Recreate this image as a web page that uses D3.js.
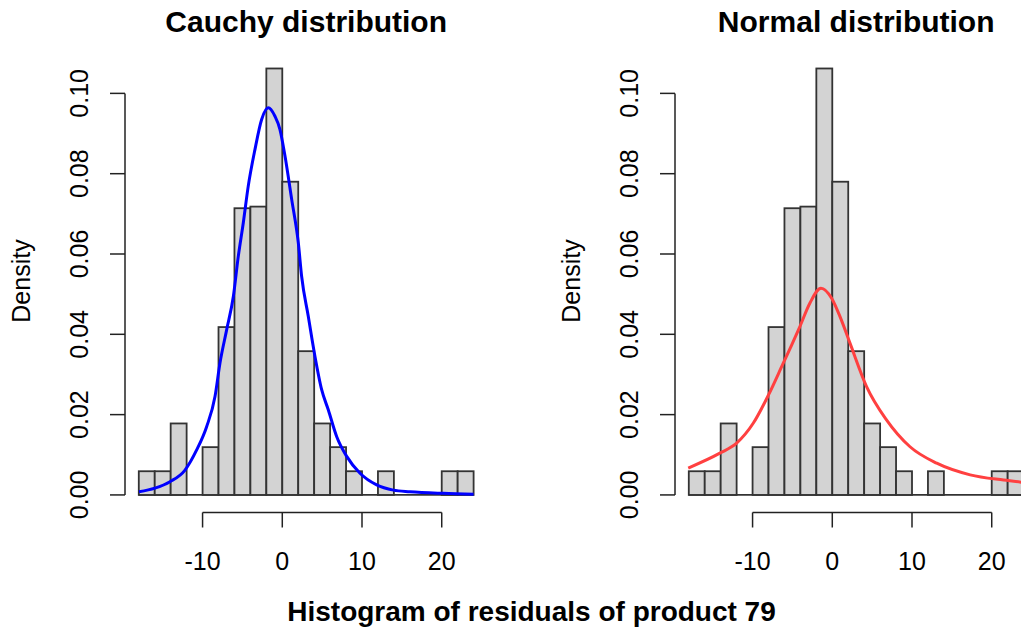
<!DOCTYPE html>
<html>
<head>
<meta charset="utf-8">
<script src="https://cdn.jsdelivr.net/npm/d3@7"></script>
<style>
  body { margin: 0; background: #fff; }
  text { font-family: "Liberation Sans", Arial, sans-serif; fill: #000; }
</style>
</head>
<body>
<svg id="chart" width="1021" height="630"></svg>
<script>
// histogram of the residuals, bins of width 2 (left edges) and their densities
var binStarts = [-18, -16, -14, -12, -10, -8, -6, -4, -2, 0, 2, 4, 6, 8, 10, 12, 14, 16, 18, 20, 22];
var binWidth = 2;
var densities = [0.0059, 0.0059, 0.0178, 0, 0.0119, 0.0418, 0.0714, 0.0718, 0.1062, 0.0780, 0.0358,
                 0.0178, 0.0119, 0.0059, 0, 0.0059, 0, 0, 0, 0.0059, 0.0059];

// fitted curve on the left panel (blue)
var leftCurveX = [-17.98, -15.97, -14.09, -12.2, -10.74, -9.49, -8.44, -7.82, -6.98, -6.14, -5.52, -4.89,
                  -4.27, -3.43, -2.59, -1.76, -0.92, -0.29, 0.34, 1.18, 2.01, 2.43, 3.26, 4.1, 4.94, 5.77,
                  6.83, 8.08, 9.75, 11.84, 13.94, 16.0, 20.2, 24.0];
var leftCurveY = [0.0008, 0.0017, 0.0033, 0.0062, 0.0112, 0.017, 0.0245, 0.0328, 0.0411, 0.0494, 0.0594, 0.0678,
                  0.0769, 0.086, 0.0935, 0.0964, 0.0943, 0.091, 0.0844, 0.0736, 0.0628, 0.0544, 0.0445, 0.0345,
                  0.0262, 0.0212, 0.0145, 0.0096, 0.0054, 0.0025, 0.0012, 0.0008, 0.0004, 0.0002];

// fitted curve on the right panel (red)
var rightCurveX = [-18.07, -14.1, -12.0, -9.9, -8.0, -6.15, -5.1, -4.05, -2.8, -1.42, -0.08, 0.97, 2.22,
                   4.3, 6.8, 9.75, 13.1, 17.3, 21.5, 24.0];
var rightCurveY = [0.0067, 0.0104, 0.0129, 0.0179, 0.0249, 0.0328, 0.0373, 0.042, 0.0478, 0.0515, 0.049, 0.0444,
                   0.0378, 0.027, 0.0187, 0.012, 0.0079, 0.005, 0.0037, 0.0031];

var xTicks = [-10, 0, 10, 20];
var yTicks = [0.00, 0.02, 0.04, 0.06, 0.08, 0.10];

var svg = d3.select("#chart");

var y = d3.scaleLinear().domain([-0.0043, 0.1113]).range([512.2, 48]);

function drawPanel(offset, title, cx, cy, color) {
    var x = d3.scaleLinear().domain([-19.68, 25.68]).range([125.4 + offset, 487 + offset]);
    var g = svg.append("g");

    // baseline under empty bins
    g.append("line")
        .attr("x1", x(binStarts[0])).attr("x2", x(binStarts[binStarts.length - 1] + binWidth))
        .attr("y1", y(0)).attr("y2", y(0))
        .attr("stroke", "#333").attr("stroke-width", 1.8);

    g.selectAll("rect.bar")
        .data(binStarts.map(function(b, i){ return {x0: b, d: densities[i]}; }).filter(function(b){ return b.d > 0; }))
      .enter().append("rect")
        .attr("class", "bar")
        .attr("x", function(d){ return x(d.x0); })
        .attr("width", function(d){ return x(d.x0 + binWidth) - x(d.x0); })
        .attr("y", function(d){ return y(d.d); })
        .attr("height", function(d){ return y(0) - y(d.d); })
        .attr("fill", "#d3d3d3")
        .attr("stroke", "#333")
        .attr("stroke-width", 1.8);

    var pts = cx.map(function(v, i){ return [v, cy[i]]; });
    g.append("path")
        .datum(pts)
        .attr("fill", "none")
        .attr("stroke", color)
        .attr("stroke-width", 3)
        .attr("stroke-linejoin", "round")
        .attr("d", d3.line().x(function(d){ return x(d[0]); }).y(function(d){ return y(d[1]); })
            .curve(d3.curveMonotoneX));

    // x axis, R style: line from first to last tick, ticks pointing down
    var xa = g.append("g").attr("transform", "translate(0,512.5)");
    xa.append("line").attr("x1", x(xTicks[0])).attr("x2", x(xTicks[xTicks.length - 1]))
        .attr("stroke", "#222").attr("stroke-width", 1.5);
    xTicks.forEach(function(t){
        xa.append("line").attr("x1", x(t)).attr("x2", x(t)).attr("y1", 0).attr("y2", 15)
            .attr("stroke", "#222").attr("stroke-width", 1.5);
        xa.append("text").attr("x", x(t)).attr("y", 57).attr("text-anchor", "middle")
            .attr("font-size", 25).text(String(t));
    });

    // y axis
    var ya = g.append("g").attr("transform", "translate(" + (125 + offset) + ",0)");
    ya.append("line").attr("y1", y(yTicks[0])).attr("y2", y(yTicks[yTicks.length - 1]))
        .attr("stroke", "#222").attr("stroke-width", 1.5);
    yTicks.forEach(function(t){
        ya.append("line").attr("x1", 0).attr("x2", -15).attr("y1", y(t)).attr("y2", y(t))
            .attr("stroke", "#222").attr("stroke-width", 1.5);
        ya.append("text")
            .attr("transform", "translate(-37," + y(t) + ") rotate(-90)")
            .attr("text-anchor", "middle").attr("font-size", 25)
            .text(t.toFixed(2));
    });

    g.append("text")
        .attr("transform", "translate(" + (30 + offset) + ",281) rotate(-90)")
        .attr("text-anchor", "middle").attr("font-size", 25).text("Density");

    g.append("text")
        .attr("x", 306.2 + offset).attr("y", 32)
        .attr("text-anchor", "middle").attr("font-size", 30).attr("font-weight", "bold")
        .text(title);
}

drawPanel(0, "Cauchy distribution", leftCurveX, leftCurveY, "#0000ff");
drawPanel(550, "Normal distribution", rightCurveX, rightCurveY, "#ff4040");

svg.append("text")
    .attr("x", 531.5).attr("y", 621)
    .attr("text-anchor", "middle").attr("font-size", 28).attr("font-weight", "bold")
    .text("Histogram of residuals of product 79");
</script>
</body>
</html>
